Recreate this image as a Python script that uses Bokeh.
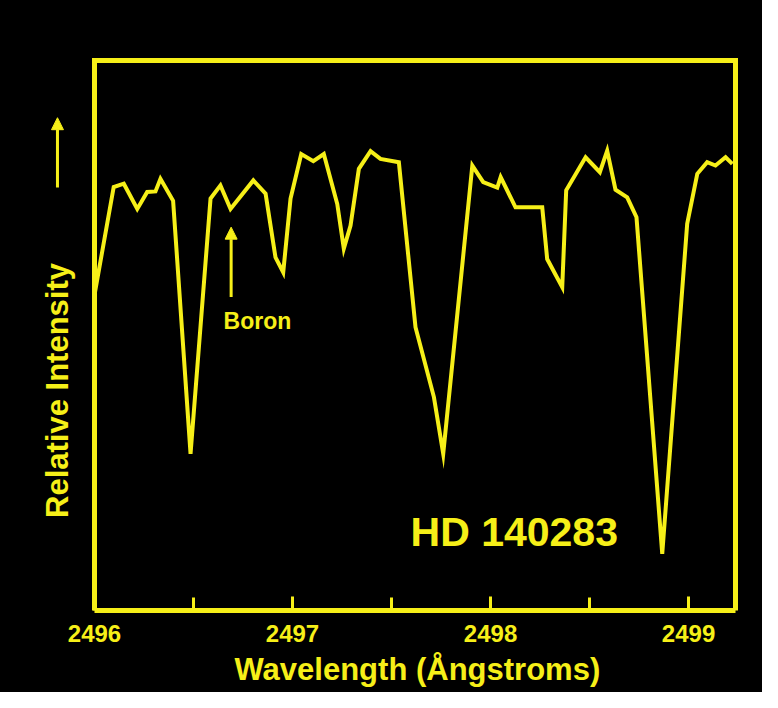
from bokeh.plotting import figure
from bokeh.models import Range1d, FixedTicker, Label, Arrow, NormalHead, Title
from bokeh.core.properties import value
from bokeh.embed import file_html
from bokeh.resources import INLINE
import math

# ---- data ----
wavelength = [2496.002, 2496.097, 2496.148, 2496.216, 2496.266, 2496.308, 2496.333,
              2496.397, 2496.485, 2496.586, 2496.636, 2496.687, 2496.802, 2496.864,
              2496.914, 2496.953, 2496.990, 2497.044, 2497.105, 2497.158, 2497.226,
              2497.259, 2497.293, 2497.335, 2497.394, 2497.444, 2497.537, 2497.621,
              2497.714, 2497.761, 2497.908, 2497.963, 2498.034, 2498.051, 2498.126,
              2498.261, 2498.286, 2498.362, 2498.382, 2498.480, 2498.552, 2498.589,
              2498.631, 2498.690, 2498.737, 2498.867, 2498.993, 2499.044, 2499.094,
              2499.136, 2499.187, 2499.221]
intensity = [0.578, 0.770, 0.776, 0.730, 0.761, 0.762, 0.785,
             0.745, 0.285, 0.749, 0.773, 0.730, 0.782, 0.758,
             0.642, 0.615, 0.749, 0.830, 0.817, 0.830, 0.739,
             0.658, 0.700, 0.803, 0.835, 0.821, 0.815, 0.515,
             0.388, 0.285, 0.809, 0.779, 0.769, 0.788, 0.733,
             0.733, 0.639, 0.588, 0.764, 0.824, 0.797, 0.836,
             0.765, 0.751, 0.715, 0.103, 0.703, 0.794, 0.815,
             0.809, 0.824, 0.812]
major_ticks = [2496, 2497, 2498, 2499]
minor_ticks = [2496.5, 2497.5, 2498.5]
wl_lo, wl_hi = 2496.0, 2499.237      # extent of the boxed plot area
star_name = "HD 140283"
line_label = "Boron"
x_title = "Wavelength (Ångstroms)"
y_title = "Relative Intensity"

YEL = "#f6ef18"
FONT = "Liberation Sans"

# layout (pixels)
W, H = 762, 692
BOX_L, BOX_R, BOX_T, BOX_B = 94, 735, 60, 610
PAD = 5
px_per_unit_x = (BOX_R - BOX_L) / (wl_hi - wl_lo)
px_per_unit_y = BOX_B - BOX_T

p = figure(width=W, height=H, output_backend="svg", toolbar_location=None,
           x_range=Range1d(wl_lo - BOX_L / px_per_unit_x,
                           wl_hi + PAD / px_per_unit_x),
           y_range=Range1d(0, 1 + PAD / px_per_unit_y),
           y_axis_location=None,
           min_border_left=0, min_border_right=W - BOX_R - PAD,
           min_border_top=BOX_T - PAD, min_border_bottom=H - BOX_B,
           styles={"background-color": "black"})
p.background_fill_color = None
p.border_fill_color = None
p.outline_line_color = None
p.xgrid.visible = False
p.ygrid.visible = False

ax = p.xaxis[0]
ax.bounds = (wl_lo, wl_hi)
ax.ticker = FixedTicker(ticks=major_ticks, minor_ticks=minor_ticks)
ax.axis_line_color = YEL
ax.axis_line_width = 5
ax.major_tick_in = 14
ax.major_tick_out = 0
ax.minor_tick_in = 13
ax.minor_tick_out = 0
ax.major_tick_line_color = YEL
ax.major_tick_line_width = 3
ax.minor_tick_line_color = YEL
ax.minor_tick_line_width = 3
ax.major_label_text_color = YEL
ax.major_label_text_font = FONT
ax.major_label_text_font_style = "bold"
ax.major_label_text_font_size = "24px"
ax.major_label_standoff = 14

# x-axis title, centred under the box (not under the whole frame)
p.add_layout(Title(text=x_title, align="left", offset=234, standoff=10,
                   text_color=YEL, text_font=FONT, text_font_style="bold",
                   text_font_size="31px"), "below")

# yellow box around the spectrum
p.quad(left=[wl_lo], right=[wl_hi], bottom=[0], top=[1], fill_color=None,
       line_color=YEL, line_width=5, line_join="miter")

p.line(wavelength, intensity, line_color=YEL, line_width=4, line_join="miter")

p.add_layout(Label(x=2497.596, y=0.142, text=star_name, text_color=YEL,
                   text_font=FONT, text_font_style="bold", text_font_size="41px",
                   text_align="left", text_baseline="middle"))
p.add_layout(Label(x=2496.652, y=0.526, text=line_label, text_color=YEL,
                   text_font=FONT, text_font_style="bold", text_font_size="23px",
                   text_align="left", text_baseline="middle"))
p.add_layout(Arrow(x_start=2496.690, y_start=0.570, x_end=2496.690, y_end=0.697,
                   line_color=YEL, line_width=3,
                   end=NormalHead(size=12, fill_color=YEL, line_color=YEL)))

# y-axis title and upward arrow, left of the box
p.text(x=[2495.813], y=[0.40], text=[y_title], angle=math.pi / 2,
       text_color=YEL, text_font=value(FONT), text_font_style="bold",
       text_font_size="31px", text_align="center", text_baseline="middle")
p.add_layout(Arrow(x_start=2495.813, y_start=0.769, x_end=2495.813, y_end=0.896,
                   line_color=YEL, line_width=3,
                   end=NormalHead(size=12, fill_color=YEL, line_color=YEL)))

open("out.html", "w").write(file_html(p, INLINE))
